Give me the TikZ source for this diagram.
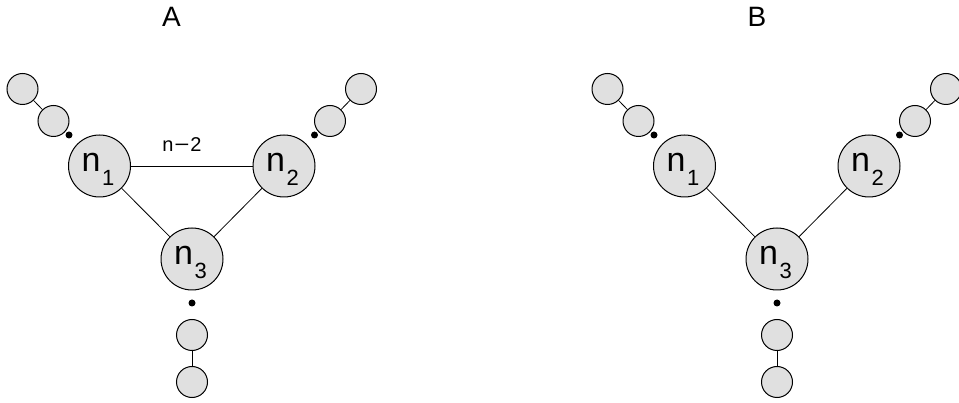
\documentclass[tikz,border=0pt]{standalone}
\usepackage{fontspec}
\setmainfont{Liberation Sans}
\usepackage{graphicx}
\definecolor{nodegray}{HTML}{E0E0E0}
\newcommand\nlab[1]{\rule{0pt}{25pt}{\fontsize{34}{34}\selectfont n}\kern1.5pt\raisebox{-14pt}{\fontsize{22}{22}\selectfont #1}\kern3pt}
\begin{document}
\begin{tikzpicture}[x=1pt,y=-1pt,
  bignode/.style={circle,draw,fill=nodegray,line width=1pt,minimum size=62pt,inner sep=0pt},
  smallnode/.style={circle,draw,fill=nodegray,line width=1pt,minimum size=31pt,inner sep=0pt},
  dotnode/.style={circle,fill=black,minimum size=7pt,inner sep=0pt},
  edgeline/.style={line width=0.8pt},
  paneltitle/.style={font=\fontsize{28}{28}\selectfont,anchor=base,inner sep=0pt}]
\useasboundingbox (0,0) rectangle (959,403);
\node[paneltitle] (titleA) at (171.5,27) {A};
\node[paneltitle] (titleB) at (757,27) {B};
\foreach \p/\dx in {a/0,b/585}{
  \node[bignode] (\p1) at (99.5+\dx,166) {\nlab{1}};
  \node[bignode] (\p2) at (284+\dx,166) {\nlab{2}};
  \node[bignode] (\p3) at (192+\dx,259) {\nlab{3}};
  \node[dotnode] (\p d1) at (69+\dx,135) {};
  \node[smallnode] (\p s1b) at (53.5+\dx,121) {};
  \node[smallnode] (\p s1a) at (22.5+\dx,89) {};
  \node[dotnode] (\p d2) at (314.5+\dx,135) {};
  \node[smallnode] (\p s2b) at (330+\dx,121) {};
  \node[smallnode] (\p s2a) at (361+\dx,89) {};
  \node[dotnode] (\p d3) at (192+\dx,303) {};
  \node[smallnode] (\p s3a) at (192+\dx,335) {};
  \node[smallnode] (\p s3b) at (192+\dx,382) {};
  \draw[edgeline] (\p1) -- (\p3);
  \draw[edgeline] (\p2) -- (\p3);
  \draw[edgeline] (\p s1a) -- (\p s1b);
  \draw[edgeline] (\p s2a) -- (\p s2b);
  \draw[edgeline] (\p s3a) -- (\p s3b);
}
\draw[edgeline] (a1) -- (a2);
\node[font=\fontsize{20}{20}\selectfont,anchor=base,inner sep=0pt] (lab) at (182,151.7) {n\kern0.8pt\scalebox{1.3}[1]{−}\kern0.8pt2};
\end{tikzpicture}
\end{document}
